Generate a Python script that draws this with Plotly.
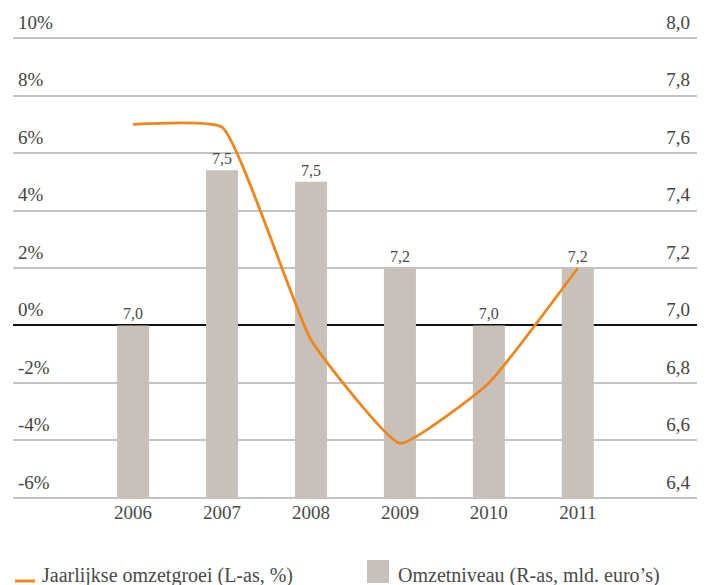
import plotly.graph_objects as go

# Revenue data 2006-2011
years = ["2006", "2007", "2008", "2009", "2010", "2011"]
revenue_bn = [7.00, 7.54, 7.50, 7.20, 7.00, 7.20]      # right axis, bn euro
growth_pct = [7.0, 6.9, -0.5, -4.1, -2.0, 2.0]          # left axis, %

left_ticks = [-6, -4, -2, 0, 2, 4, 6, 8, 10]
left_labels = ["-6%", "-4%", "-2%", "0%", "2%", "4%", "6%", "8%", "10%"]
right_ticks = [6.4, 6.6, 6.8, 7.0, 7.2, 7.4, 7.6, 7.8, 8.0]
right_labels = ["6,4", "6,6", "6,8", "7,0", "7,2", "7,4", "7,6", "7,8", "8,0"]

line_name = "Jaarlijkse omzetgroei (L-as, %)"
bar_name = "Omzetniveau (R-as, mld. euro\u2019s)"

TEXT = "#4a4a4a"
FONT = "Liberation Serif"
ORANGE = "#f0861a"
BAR = "#c8c1ba"

W, H = 712, 585
ML, MR, MT, MB = 13, 15, 37, 86
PW, PH = W - ML - MR, H - MT - MB


def px_x(x):
    return (x - ML) / PW


def px_y(y):
    return (H - MB - y) / PH


fig = go.Figure()

# bars on the base (right-hand) axis, growth line on the overlay so it sits on top
fig.add_trace(go.Bar(
    x=years, y=revenue_bn, yaxis="y", name=bar_name,
    marker=dict(color=BAR, line=dict(width=0)),
    width=0.36,
    texttemplate="%{y:.1f}", textposition="outside",
    textfont=dict(family=FONT, size=16, color=TEXT),
    cliponaxis=False, showlegend=False,
))

fig.add_trace(go.Scatter(
    x=years, y=growth_pct, yaxis="y2", name=line_name,
    mode="lines",
    line=dict(color=ORANGE, width=2.8, shape="spline", smoothing=0.4),
    showlegend=False,
))

# legend drawn along the bottom edge
fig.add_shape(type="line", xref="paper", yref="paper",
              x0=px_x(15), x1=px_x(35), y0=px_y(581), y1=px_y(581),
              line=dict(color=ORANGE, width=3))
fig.add_annotation(text=line_name, xref="paper", yref="paper",
                   x=px_x(40), y=px_y(575), xanchor="left", yanchor="middle",
                   showarrow=False, font=dict(family=FONT, size=20, color=TEXT))
fig.add_shape(type="rect", xref="paper", yref="paper",
              x0=px_x(367), x1=px_x(389), y0=px_y(560), y1=px_y(583),
              fillcolor=BAR, line=dict(width=0))
fig.add_annotation(text=bar_name, xref="paper", yref="paper",
                   x=px_x(396), y=px_y(575), xanchor="left", yanchor="middle",
                   showarrow=False, font=dict(family=FONT, size=20, color=TEXT))

pad = 0.04
fig.update_layout(
    width=W, height=H,
    margin=dict(l=ML, r=MR, t=MT, b=MB, autoexpand=False),
    paper_bgcolor="white", plot_bgcolor="white",
    separators=", ",
    font=dict(family=FONT, size=19, color=TEXT),
    showlegend=False,
    xaxis=dict(
        type="category", range=[-1.35, 6.34],
        showgrid=False, zeroline=False, showline=False,
        ticks="", tickfont=dict(size=19),
    ),
    yaxis=dict(
        range=[6.4 - pad / 10, 8.0 + pad / 10], tickvals=right_ticks, ticktext=right_labels,
        side="right",
        showgrid=True, gridcolor="#c4c4c4", gridwidth=1.5,
        zeroline=False, showline=False,
        ticks="", ticklabelposition="inside", ticklabelshift=-16,
        ticklabelstandoff=4, ticklabeloverflow="allow",
    ),
    yaxis2=dict(
        range=[-6 - pad, 10 + pad], tickvals=left_ticks, ticktext=left_labels,
        overlaying="y", side="left",
        showgrid=False,
        zeroline=True, zerolinecolor="#111111", zerolinewidth=1.5,
        ticks="", ticklabelposition="inside", ticklabelshift=-16,
        ticklabelstandoff=2, ticklabeloverflow="allow", showline=False,
    ),
)

fig.write_html("out.html")
